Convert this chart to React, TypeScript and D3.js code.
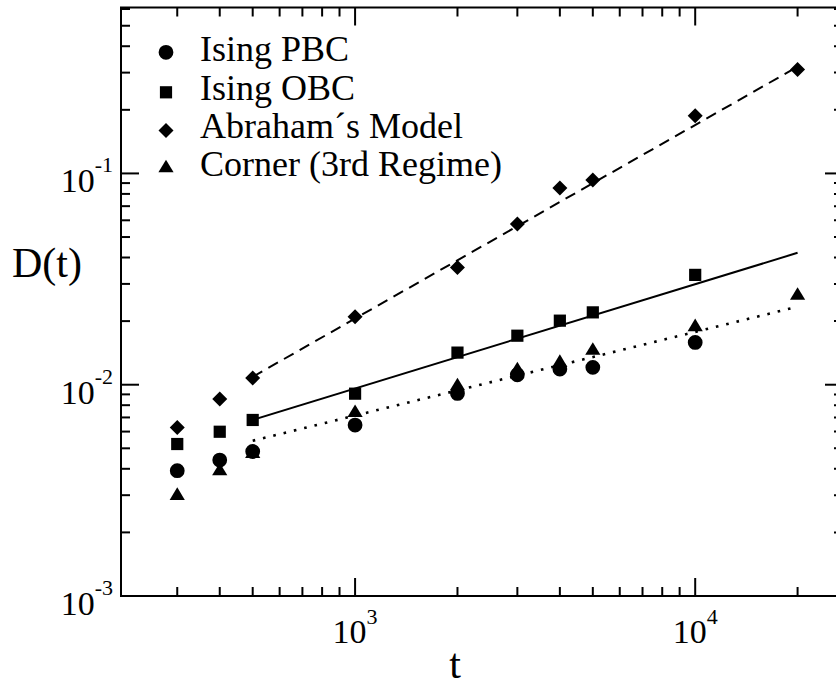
import React from 'react';
import * as d3 from 'd3';

// ---------------- data ----------------
const tValues = [300, 400, 500, 1000, 2000, 3000, 4000, 5000, 10000, 20000];
const isingPBC = [0.00392, 0.0044, 0.00483, 0.00644, 0.00909, 0.01115, 0.01186, 0.01208, 0.01586];
const isingOBC = [0.00524, 0.00599, 0.00681, 0.00907, 0.01419, 0.01706, 0.0201, 0.022, 0.0331];
const abraham = [0.00628, 0.00856, 0.01076, 0.021, 0.0359, 0.0577, 0.0853, 0.0931, 0.1875, 0.31];
const corner = [0.00305, 0.00399, 0.00482, 0.00753, 0.01008, 0.012, 0.013, 0.01485, 0.0192, 0.027];

// power-law fits (endpoints)
const fitT = [500, 20000];
const fitAbraham = [0.0109, 0.32];
const fitOBC = [0.00682, 0.0421];
const fitCorner = [0.00543, 0.0234];

const xMajor = [1000, 10000];
const xMajorExp = ['3', '4'];
const yMajor = [0.001, 0.01, 0.1];
const yMajorExp = ['-3', '-2', '-1'];

const legendLabels = ['Ising PBC', 'Ising OBC', 'Abraham\u00b4s Model', 'Corner (3rd Regime)'];
const legendShapes = ['circle', 'square', 'diamond', 'triangle'];

const xTitle = 't';
const yTitle = 'D(t)';

// ---------------- layout ----------------
const W = 836;
const H = 686;
const L = 121;
const R = 843;
const T = 7.5;
const B = 596;
const FONT =
  "'Liberation Serif', 'Nimbus Roman', 'Nimbus Roman No9 L', 'Tinos', 'FreeSerif', 'Noto Serif', 'DejaVu Serif', 'Times New Roman', Times, serif";

function markerPath(shape: string): string {
  switch (shape) {
    case 'circle': {
      const r = 7.4;
      return `M${r},0A${r},${r} 0 1,1 ${-r},0A${r},${r} 0 1,1 ${r},0Z`;
    }
    case 'square': {
      const h = 6.1;
      return `M${-h},${-h}H${h}V${h}H${-h}Z`;
    }
    case 'diamond': {
      const h = 7.5;
      return `M0,${-h}L${h},0L0,${h}L${-h},0Z`;
    }
    default: {
      const w = 7.6;
      const hh = 6.3;
      return `M0,${-hh}L${w},${hh}L${-w},${hh}Z`;
    }
  }
}

export default function App() {
  const x = d3.scaleLog().domain([205, 27200]).range([L, R]);
  const y = d3.scaleLog().domain([0.001, 0.61]).range([B, T]);

  const xMinor = x.ticks().filter((v) => !xMajor.some((m) => Math.abs(m - v) < 1e-9 * m));
  const yMinor = y.ticks().filter((v) => !yMajor.some((m) => Math.abs(m - v) < 1e-6 * m));

  const series = [
    { data: isingPBC, shape: 'circle' },
    { data: isingOBC, shape: 'square' },
    { data: abraham, shape: 'diamond' },
    { data: corner, shape: 'triangle' },
  ];

  const line = d3
    .line<number>()
    .x((_, i) => x(fitT[i]))
    .y((d) => y(d));

  const fits = [
    { data: fitAbraham, dash: '11,7', w: 2 },
    { data: fitOBC, dash: 'none', w: 2 },
    { data: fitCorner, dash: '2.6,8', w: 2.6 },
  ];

  const majorLen = 18;
  const minorLen = 9;
  const tickW = 2;

  const legendMarkerY = [52.3, 92.3, 130.5, 166];
  const legendBaseline = [61, 99.5, 137.5, 175.5];

  const txt = { fontFamily: FONT, fill: '#000' } as React.CSSProperties;

  return (
    <svg
      width={W}
      height={H}
      style={{ position: 'absolute', left: 0, top: 0, background: '#fff' }}
      xmlns="http://www.w3.org/2000/svg"
    >
      <rect x={0} y={0} width={W} height={H} fill="#fff" />

      {/* fit lines */}
      {fits.map((f, i) => (
        <path
          key={'fit' + i}
          d={line(f.data) || ''}
          fill="none"
          stroke="#000"
          strokeWidth={f.w}
          strokeDasharray={f.dash}
        />
      ))}

      {/* markers */}
      {series.map((s, si) =>
        s.data.map((v, i) => (
          <path
            key={`m${si}-${i}`}
            d={markerPath(s.shape)}
            transform={`translate(${x(tValues[i])},${y(v)})`}
            fill="#000"
          />
        ))
      )}

      {/* frame */}
      <path d={`M${L},${T}H${R}V${B}H${L}Z`} fill="none" stroke="#000" strokeWidth={2} />

      {/* x ticks bottom & top */}
      {xMajor.map((v) => (
        <g key={'xM' + v}>
          <line x1={x(v)} x2={x(v)} y1={B} y2={B - majorLen} stroke="#000" strokeWidth={tickW} />
          <line x1={x(v)} x2={x(v)} y1={T} y2={T + majorLen} stroke="#000" strokeWidth={tickW} />
        </g>
      ))}
      {xMinor.map((v) => (
        <g key={'xm' + v}>
          <line x1={x(v)} x2={x(v)} y1={B} y2={B - minorLen} stroke="#000" strokeWidth={tickW} />
          <line x1={x(v)} x2={x(v)} y1={T} y2={T + minorLen} stroke="#000" strokeWidth={tickW} />
        </g>
      ))}

      {/* y ticks left & right */}
      {yMajor.map((v) => (
        <g key={'yM' + v}>
          <line x1={L} x2={L + majorLen} y1={y(v)} y2={y(v)} stroke="#000" strokeWidth={tickW} />
          <line x1={R} x2={R - majorLen} y1={y(v)} y2={y(v)} stroke="#000" strokeWidth={tickW} />
        </g>
      ))}
      {yMinor.map((v) => (
        <g key={'ym' + v}>
          <line x1={L} x2={L + minorLen} y1={y(v)} y2={y(v)} stroke="#000" strokeWidth={tickW} />
          <line x1={R} x2={R - minorLen} y1={y(v)} y2={y(v)} stroke="#000" strokeWidth={tickW} />
        </g>
      ))}

      {/* x tick labels */}
      {xMajor.map((v, i) => (
        <text key={'xl' + v} x={x(v)} y={643} textAnchor="middle" style={{ ...txt, fontSize: 34 }}>
          <tspan>10</tspan>
          <tspan dy={-19} style={{ fontSize: 22 }}>
            {xMajorExp[i]}
          </tspan>
        </text>
      ))}

      {/* y tick labels */}
      {yMajor.map((v, i) => (
        <text key={'yl' + v} x={113} y={y(v) + 19} textAnchor="end" style={{ ...txt, fontSize: 34 }}>
          <tspan>10</tspan>
          <tspan dy={-20} style={{ fontSize: 22 }}>
            {yMajorExp[i]}
          </tspan>
        </text>
      ))}

      {/* axis titles */}
      <text x={12} y={277} style={{ ...txt, fontSize: 42 }}>
        {yTitle}
      </text>
      <text x={455} y={678} textAnchor="middle" style={{ ...txt, fontSize: 42 }}>
        {xTitle}
      </text>

      {/* legend */}
      {legendLabels.map((lab, i) => (
        <g key={'lg' + i}>
          <path d={markerPath(legendShapes[i])} transform={`translate(166,${legendMarkerY[i]})`} fill="#000" />
          <text x={200} y={legendBaseline[i]} style={{ ...txt, fontSize: 36 }}>
            {lab}
          </text>
        </g>
      ))}
    </svg>
  );
}
